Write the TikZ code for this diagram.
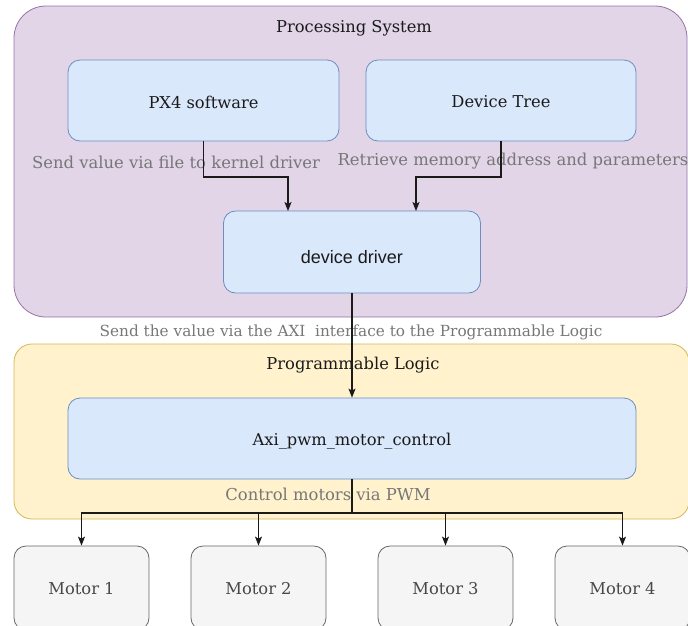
\documentclass[tikz,border=0pt]{standalone}
\usepackage{fontspec}
\usetikzlibrary{arrows.meta}
\newfontfamily\slab{DejaVu Serif}
\newfontfamily\helv{Liberation Sans}
\definecolor{psfill}{HTML}{E1D5E7}
\definecolor{psline}{HTML}{9673A6}
\definecolor{blfill}{HTML}{DAE8FC}
\definecolor{blline}{HTML}{6C8EBF}
\definecolor{plfill}{HTML}{FFF2CC}
\definecolor{plline}{HTML}{D6B656}
\definecolor{mofill}{HTML}{F5F5F5}
\definecolor{moline}{HTML}{666666}
\definecolor{lbl}{HTML}{777777}
\definecolor{ink}{HTML}{1A1A1A}
\tikzset{
  box/.style={draw=blline, fill=blfill, line width=0.8pt, rounded corners=12pt, inner sep=0pt},
  motorbox/.style={draw=moline, fill=mofill, line width=0.8pt, rounded corners=12pt, inner sep=0pt},
  maintext/.style={font=\slab\fontsize{16.3}{19}\selectfont, text=ink},
  edgetext/.style={font=\slab\fontsize{16.4}{19}\selectfont, text=lbl},
  arr/.style={draw=ink, line width=1.1pt, -{Stealth[length=9pt,width=7pt,inset=2pt]}},
}
\begin{document}
\begin{tikzpicture}[x=1pt, y=-1pt]
\useasboundingbox (0,0) rectangle (688,625);
\clip (0,0) rectangle (688,625);

% containers
\draw[draw=psline, fill=psfill, line width=0.8pt, rounded corners=32pt] (14,6) rectangle (687,317);
\node[maintext] (pstitle) at (354,28) {Processing System};
\draw[draw=plline, fill=plfill, line width=0.8pt, rounded corners=18pt] (14,344) rectangle (689,519);
\node[maintext] (pltitle) at (353,365) {Programmable Logic};

% blocks (shape and caption kept as separate nodes)
\node[box, minimum width=271pt, minimum height=81pt] (px4) at (203.5,100.5) {};
\node[maintext] (px4t) at ([yshift=-1.5pt]px4.center) {PX4 software};
\node[box, minimum width=270pt, minimum height=81pt] (dt) at (501,100.5) {};
\node[maintext] (dtt) at ([yshift=-1.5pt]dt.center) {Device Tree};
\node[box, minimum width=257pt, minimum height=82pt] (drv) at (352,252) {};
\node[font=\helv\fontsize{18}{21}\selectfont, text=ink] (drvt) at ([yshift=-5pt]drv.center) {device driver};
\node[box, minimum width=568pt, minimum height=81pt] (axi) at (352,438.5) {};
\node[maintext] (axit) at ([yshift=-2.5pt]axi.center) {Axi\_pwm\_motor\_control};

% motors
\foreach \i/\xc in {1/81.5, 2/258.5, 3/445.5, 4/622.5} {
  \node[motorbox, minimum width=135pt, minimum height=84pt] (m\i) at (\xc,588) {};
  \node[maintext, text=moline!70!black] (m\i t) at ([yshift=-1pt]m\i.center) {Motor \i};
}

% edge labels
\node[edgetext] (l1) at (176,162) {Send value via file to kernel driver};
\node[edgetext] (l2) at (513,161.5) {Retrieve memory address and parameters};
\node[font=\slab\fontsize{15.3}{18}\selectfont, text=lbl] (l3) at (351,332) {Send the value via the AXI\ \ interface to the Programmable Logic};
\node[edgetext] (l4) at (328,494) {Control motors via PWM};

% connectors
\draw[arr] (px4.south) |- (288,177) -- (288,211);
\draw[arr] (dt.south) |- (416,177) -- (416,211);
\draw[arr] (drv.south) -- (axi.north -| drv.south);
\coordinate (bus) at (352,513);
\draw[draw=ink, line width=1.1pt] (axi.south) -- (bus);
\draw[arr] (bus) -| (m1.north);
\draw[arr] (bus) -| (m2.north);
\draw[arr] (bus) -| (m3.north);
\draw[arr] (bus) -| (m4.north);
\end{tikzpicture}
\end{document}
